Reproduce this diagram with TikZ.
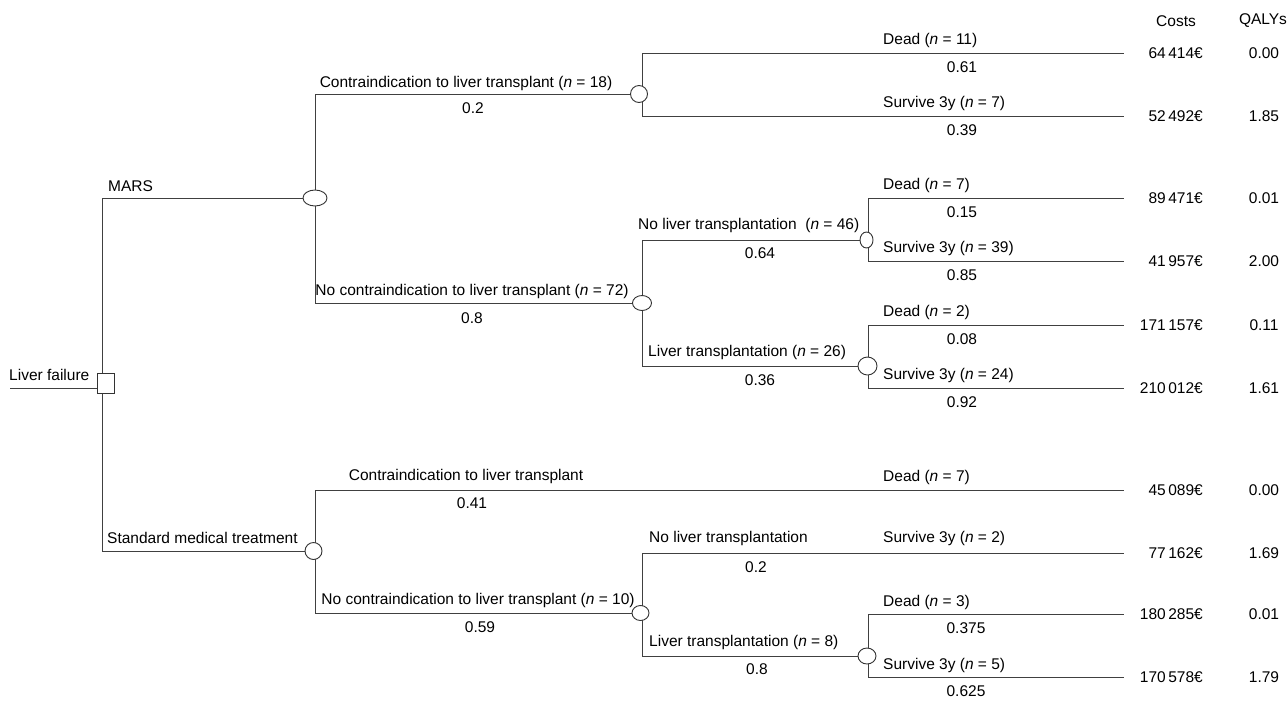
\documentclass[tikz,border=0pt]{standalone}
\usepackage{fontspec}
\setmainfont{Liberation Sans}
\usetikzlibrary{shapes.geometric, backgrounds}

\tikzset{
  chance/.style={ellipse, draw=black!80, fill=white, line width=0.9pt, inner sep=0pt},
  decision/.style={rectangle, draw=black!80, fill=white, line width=0.9pt, inner sep=0pt,
    minimum width=17pt, minimum height=20pt},
  branch/.style={draw=black!75, line width=1pt},
  lbl/.style={inner sep=0pt, font=\fontsize{15.5}{18}\selectfont},
}
\newcommand{\nn}{\textit{n}}

\begin{document}
\begin{tikzpicture}[x=1pt, y=-1pt]
    \useasboundingbox (0,0) rectangle (1287,702);
    % Nodo de decision
    \coordinate (start) at (10,388);
    \coordinate (tA) at (102,198);
    \coordinate (tB) at (102,551);
    \node[decision] (lf) at (105.5,383) {};
    % Rama MARS
    \node[chance, minimum width=24pt, minimum height=16pt] (mars) at (315,198) {};
    \coordinate (mA) at (315,94);
    \coordinate (mB) at (315,303);
    \node[chance, minimum size=17pt] (ci18) at (639,94) {};
    \node[chance, minimum width=19pt, minimum height=15pt] (nci72) at (642,303) {};
    \coordinate (ciA) at (642,53);
    \coordinate (ciB) at (642,116);
    \coordinate (nciA) at (642,240);
    \coordinate (nciB) at (642,366);
    \node[chance, minimum width=13pt, minimum height=16pt] (nolt46) at (866.5,240) {};
    \node[chance, minimum width=19pt, minimum height=18pt] (lt26) at (867.5,366) {};
    \coordinate (noltA) at (868,198);
    \coordinate (noltB) at (868,261);
    \coordinate (ltA) at (868,325);
    \coordinate (ltB) at (868,388);
    % Rama tratamiento estandar
    \node[chance, minimum size=17pt] (smt) at (313.5,551) {};
    \coordinate (sA) at (315,490);
    \coordinate (sB) at (315,613);
    \node[chance, minimum width=17pt, minimum height=15pt] (nci10) at (640.5,613) {};
    \coordinate (nciTA) at (642,553);
    \coordinate (nciTB) at (642,656);
    \node[chance, minimum width=18pt, minimum height=16pt] (lt8) at (867,656) {};
    \coordinate (ltTA) at (868,614);
    \coordinate (ltTB) at (868,677);
    % Extremos
    \foreach \n/\y in {1/53,2/116,3/198,4/261,5/325,6/388,7/490,8/553,9/614,10/677}
        \coordinate (e\n) at (1124,\y);

    \begin{pgfonlayer}{background}
        \draw[branch] (start) -- (start -| lf.west);
        \draw[branch] (tA) -- (tB);
        \draw[branch] (tA) -- (mars);
        \draw[branch] (tB) -- (smt);
        \draw[branch] (mA) -- (mB);
        \draw[branch] (mA) -- (ci18);
        \draw[branch] (mB) -- (nci72);
        \draw[branch] (ciA) -- (ciB);
        \draw[branch] (ciA) -- (e1);
        \draw[branch] (ciB) -- (e2);
        \draw[branch] (nciA) -- (nciB);
        \draw[branch] (nciA) -- (nolt46);
        \draw[branch] (nciB) -- (lt26);
        \draw[branch] (noltA) -- (noltB);
        \draw[branch] (noltA) -- (e3);
        \draw[branch] (noltB) -- (e4);
        \draw[branch] (ltA) -- (ltB);
        \draw[branch] (ltA) -- (e5);
        \draw[branch] (ltB) -- (e6);
        \draw[branch] (sA) -- (sB);
        \draw[branch] (sA) -- (e7);
        \draw[branch] (sB) -- (nci10);
        \draw[branch] (nciTA) -- (nciTB);
        \draw[branch] (nciTA) -- (e8);
        \draw[branch] (nciTB) -- (lt8);
        \draw[branch] (ltTA) -- (ltTB);
        \draw[branch] (ltTA) -- (e9);
        \draw[branch] (ltTB) -- (e10);
    \end{pgfonlayer}

    % Etiquetas
    \node[lbl, anchor=west] (tlf) at (9,375) {Liver failure};
    \node[lbl, anchor=west] (tmars) at (108,186) {MARS};
    \node[lbl, anchor=west] (tsmt) at (107,538) {Standard medical treatment};
    \node[lbl] (tci18) at (466,83) {Contraindication to liver transplant (\nn{} = 18)};
    \node[lbl] (pci18) at (473,108) {0.2};
    \node[lbl] (tnci72) at (472,291) {No contraindication to liver transplant (\nn{} = 72)};
    \node[lbl] (pnci72) at (472,318) {0.8};
    \node[lbl] (tci) at (466,476) {Contraindication to liver transplant};
    \node[lbl] (pci) at (472,503) {0.41};
    \node[lbl] (tnci10) at (478,600) {No contraindication to liver transplant (\nn{} = 10)};
    \node[lbl] (pnci10) at (480,627) {0.59};
    \node[lbl, anchor=west] (tnolt46) at (638,225) {No liver transplantation\ \ (\nn{} = 46)};
    \node[lbl] (pnolt46) at (760,253) {0.64};
    \node[lbl, anchor=west] (tlt26) at (648,352) {Liver transplantation (\nn{} = 26)};
    \node[lbl] (plt26) at (760,380) {0.36};
    \node[lbl, anchor=west] (tnolt) at (649,538) {No liver transplantation};
    \node[lbl] (pnolt) at (756,567) {0.2};
    \node[lbl, anchor=west] (tlt8) at (649,642) {Liver transplantation (\nn{} = 8)};
    \node[lbl] (plt8) at (757,669) {0.8};
    % Resultados
    \node[lbl, anchor=west] (o1) at (883,40) {Dead (\nn{} = 11)};
    \node[lbl] (p1) at (962,67) {0.61};
    \node[lbl, anchor=west] (o2) at (883,103) {Survive 3y (\nn{} = 7)};
    \node[lbl] (p2) at (962,130) {0.39};
    \node[lbl, anchor=west] (o3) at (883,185) {Dead (\nn{} = 7)};
    \node[lbl] (p3) at (962,212) {0.15};
    \node[lbl, anchor=west] (o4) at (883,248) {Survive 3y (\nn{} = 39)};
    \node[lbl] (p4) at (962,275) {0.85};
    \node[lbl, anchor=west] (o5) at (883,312) {Dead (\nn{} = 2)};
    \node[lbl] (p5) at (962,339) {0.08};
    \node[lbl, anchor=west] (o6) at (883,375) {Survive 3y (\nn{} = 24)};
    \node[lbl] (p6) at (962,402) {0.92};
    \node[lbl, anchor=west] (o7) at (883,477) {Dead (\nn{} = 7)};
    \node[lbl, anchor=west] (o8) at (883,538) {Survive 3y (\nn{} = 2)};
    \node[lbl, anchor=west] (o9) at (883,602) {Dead (\nn{} = 3)};
    \node[lbl] (p9) at (966,628) {0.375};
    \node[lbl, anchor=west] (o10) at (883,665) {Survive 3y (\nn{} = 5)};
    \node[lbl] (p10) at (966,691) {0.625};
    % Costes y QALYs
    \node[lbl] (costs) at (1176,21) {Costs};
    \node[lbl] (qalys) at (1263,21) {QALYs};
    \foreach \n/\c/\q in {1/64\,414/0.00, 2/52\,492/1.85, 3/89\,471/0.01, 4/41\,957/2.00,
        5/171\,157/0.11, 6/210\,012/1.61, 7/45\,089/0.00, 8/77\,162/1.69,
        9/180\,285/0.01, 10/170\,578/1.79}
    {
        \node[lbl, anchor=east] (c\n) at ([xshift=79pt]e\n) {\c€};
        \node[lbl] (q\n) at ([xshift=140pt]e\n) {\q};
    }
\end{tikzpicture}
\end{document}
